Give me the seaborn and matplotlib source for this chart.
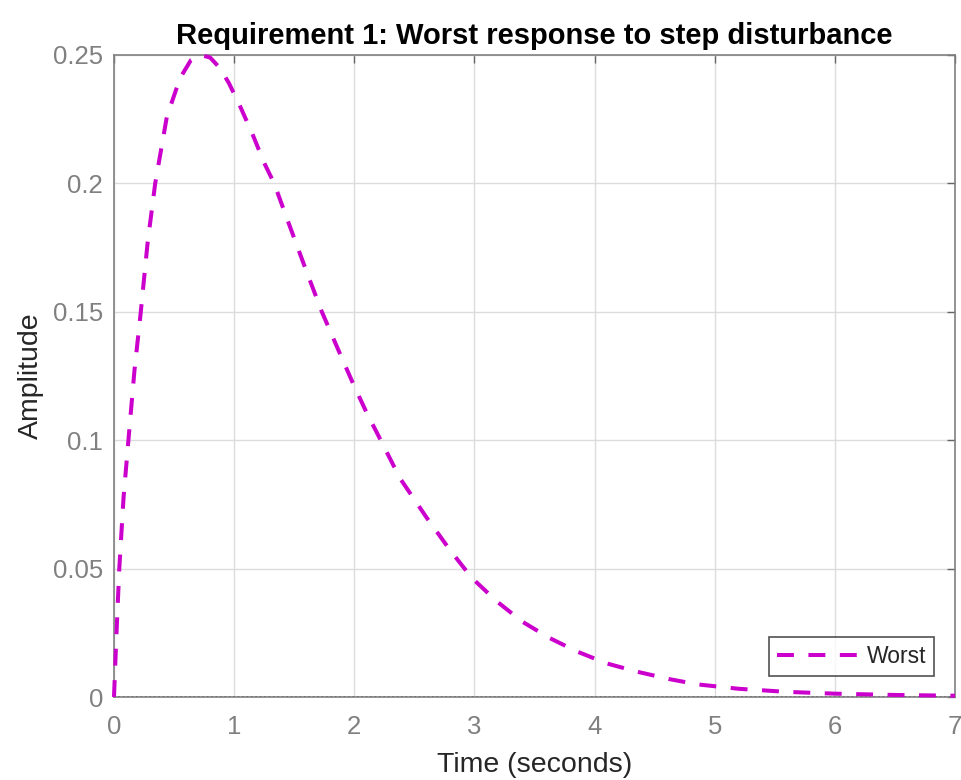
import numpy as np
import pandas as pd
import seaborn as sns
import matplotlib.pyplot as plt

# values
time_s = [0, 0.02, 0.044, 0.08, 0.12, 0.17, 0.223, 0.28, 0.343, 0.44, 0.55, 0.64,
          0.72, 0.8, 0.88, 0.957, 1.05, 1.15, 1.25, 1.333, 1.45, 1.6, 1.73, 1.85,
          2.0, 2.1, 2.22, 2.38, 2.6, 2.8, 2.98, 3.19, 3.40, 3.62, 3.855, 4.1, 4.35,
          4.63, 4.86, 5.2, 5.6, 6.0, 6.5, 7.0]
amplitude = [0, 0.024, 0.05, 0.078, 0.1, 0.127, 0.15, 0.177, 0.2, 0.226, 0.241, 0.248,
             0.25, 0.249, 0.245, 0.239, 0.23, 0.2195, 0.208, 0.2, 0.185, 0.166, 0.15, 0.137,
             0.121, 0.111, 0.1, 0.0852, 0.070, 0.057, 0.0463, 0.0371, 0.0293, 0.0231, 0.0177,
             0.0131, 0.0099, 0.0069, 0.0049, 0.0032, 0.002, 0.0013, 0.0008, 0.0005]
series_name = 'Worst'
x_ticks = [0, 1, 2, 3, 4, 5, 6, 7]
y_ticks = [0, 0.05, 0.1, 0.15, 0.2, 0.25]
y_tick_labels = ['0', '0.05', '0.1', '0.15', '0.2', '0.25']

df = pd.DataFrame({'Time': time_s, 'Amplitude': amplitude})

sns.set_style('white')
plt.rcParams['font.family'] = ['Liberation Sans', 'DejaVu Sans']

fig = plt.figure(figsize=(9.62, 7.8), dpi=100)
ax = fig.add_axes([0.1185, 0.1064, 0.8742, 0.8231])

ax.axhline(0, color='black', linestyle=':', linewidth=1.2, zorder=2)
sns.lineplot(data=df, x='Time', y='Amplitude', color='#CC00CC', linewidth=2.9,
             linestyle=(0, (4.2, 3.6)), ax=ax, zorder=3, sort=False, legend=False)
resp_line = [l for l in ax.lines if len(l.get_xdata()) == len(time_s)][0]
resp_line.set_clip_on(False)

ax.set_xlim(0, 7)
ax.set_ylim(0, 0.25)
ax.set_xticks(x_ticks)
ax.set_yticks(y_ticks)
ax.set_yticklabels(y_tick_labels)
ax.grid(True, color='#dcdcdc', linewidth=1)
ax.set_axisbelow(True)

for s in ax.spines.values():
    s.set_visible(True)
    s.set_color('#808080')
    s.set_linewidth(1.2)
ax.tick_params(direction='in', length=6, width=1, color='#666666', labelcolor='#808080',
               labelsize=18.5, top=True, right=True)
ax.tick_params(axis='x', pad=13)
ax.tick_params(axis='y', pad=8)

ax.set_xlabel('Time (seconds)', fontsize=20.5, color='#262626', labelpad=9)
ax.set_ylabel('Amplitude', fontsize=20.5, color='#262626', labelpad=6)
ax.set_title('Requirement 1: Worst response to step disturbance', fontsize=21,
             fontweight='bold', color='black', pad=8)

leg = ax.legend(handles=[resp_line], labels=[series_name], loc='lower right',
                fontsize=16.5, handlelength=3.6, frameon=True, fancybox=False,
                borderaxespad=0.9, handletextpad=0.3, borderpad=0.35)
leg.get_frame().set_edgecolor('#262626')
leg.get_frame().set_linewidth(1.2)

fig.savefig('out.png', dpi=100)
